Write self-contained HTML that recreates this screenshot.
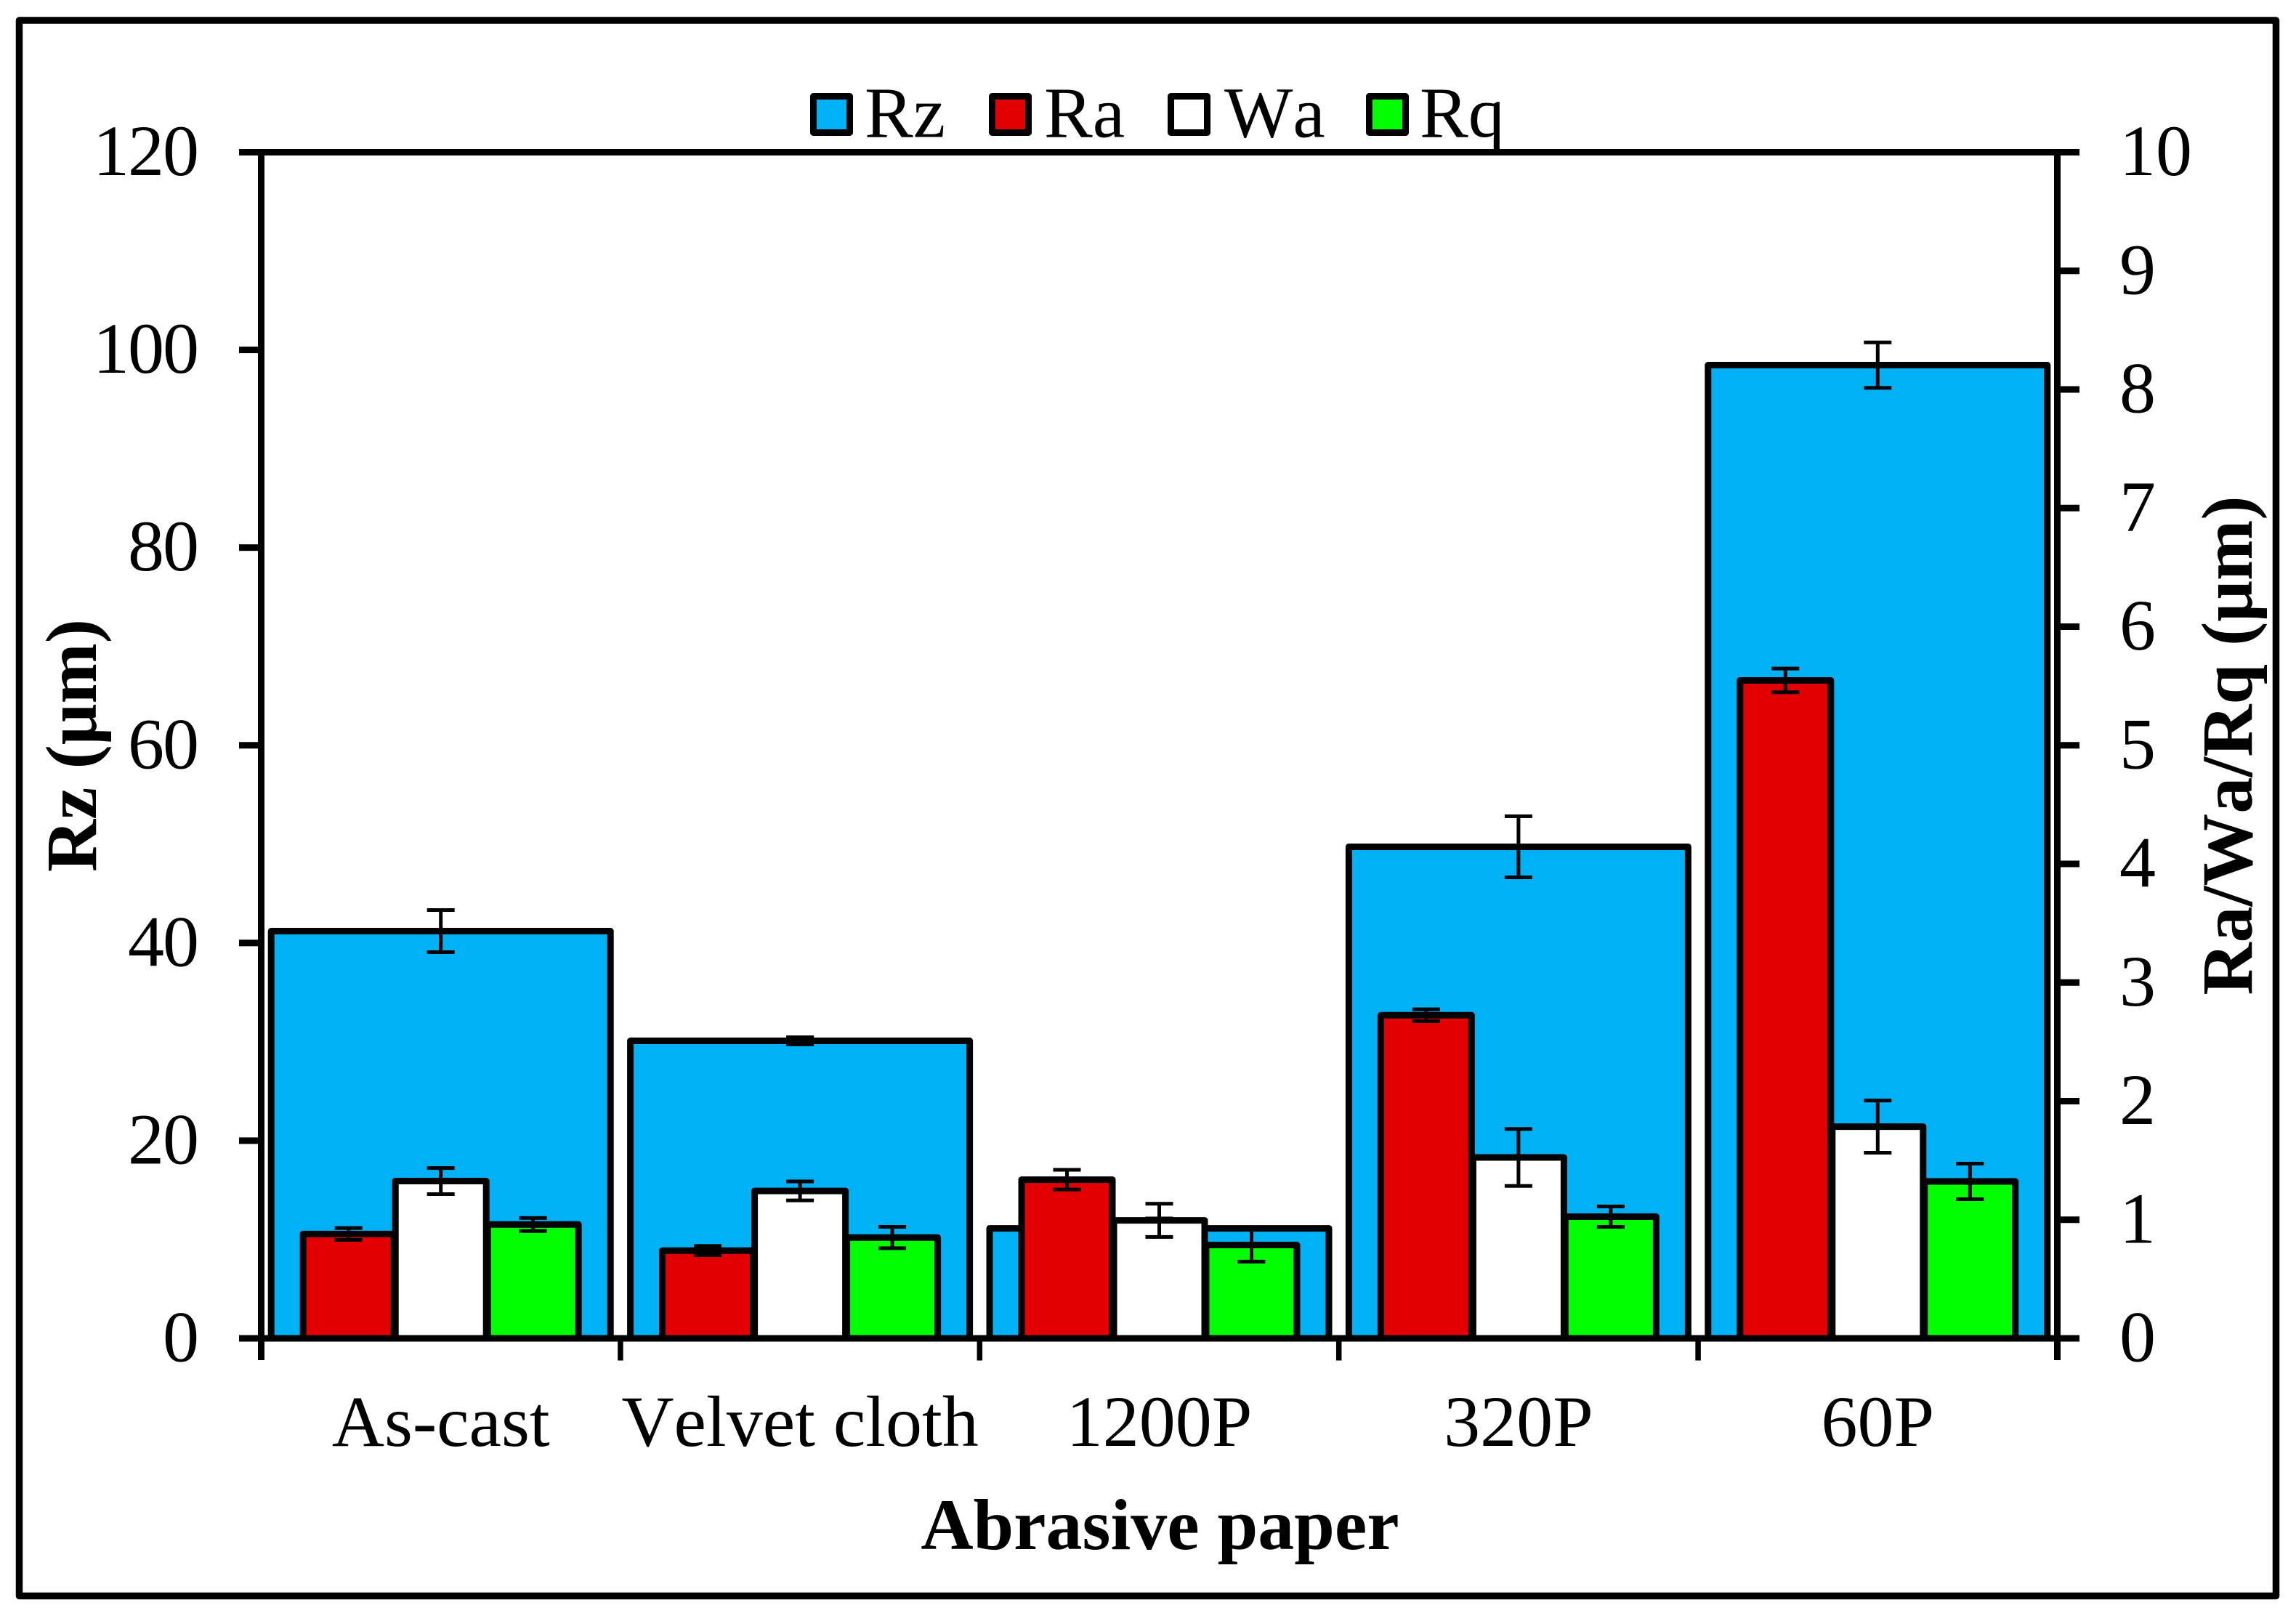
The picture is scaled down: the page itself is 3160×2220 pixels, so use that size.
<!DOCTYPE html>
<html lang="en">
<head>
<meta charset="utf-8">
<title>Surface roughness by abrasive paper</title>
<style>
html,body{margin:0;padding:0;background:#fff;}
body{width:3160px;height:2220px;overflow:hidden;}
svg{display:block;}
text{font-family:"Liberation Serif",serif;fill:#000;font-kerning:none;}
.t{font-size:100px;}
.b{font-size:100px;font-weight:bold;}
.tl{letter-spacing:-2px;}
</style>
</head>
<body>
<svg id="chart" xmlns="http://www.w3.org/2000/svg" width="3160" height="2220" viewBox="0 0 3160 2220">
  <rect x="0" y="0" width="3160" height="2220" fill="#fff"/>
  <rect x="26.5" y="28" width="3106" height="2168.5" fill="#fff" stroke="#000" stroke-width="9.5" stroke-linejoin="round"/>
  <g id="marks"></g>
  <g id="axes"></g>
  <text class="b" x="1596.5" y="2132" text-anchor="middle">Abrasive paper</text>
  <text class="b" transform="translate(132,1026) rotate(-90)" text-anchor="middle">Rz (μm)</text>
  <text class="b" transform="translate(3099,1026) rotate(-90)" text-anchor="middle">Ra/Wa/Rq (μm)</text>
  <g>
    <g>
      <rect x="1119.5" y="132.5" width="50" height="50" fill="#00B1F5" stroke="#000" stroke-width="9" stroke-linejoin="round"/>
      <text class="t" x="1190" y="188.5">Rz</text>
    </g>
    <g>
      <rect x="1365.5" y="132.5" width="50" height="50" fill="#E20000" stroke="#000" stroke-width="9" stroke-linejoin="round"/>
      <text class="t" x="1437" y="188.5">Ra</text>
    </g>
    <g>
      <rect x="1611.5" y="132.5" width="50" height="50" fill="#fff" stroke="#000" stroke-width="9" stroke-linejoin="round"/>
      <text class="t" x="1685" y="188.5">Wa</text>
    </g>
    <g>
      <rect x="1884.5" y="132.5" width="50" height="50" fill="#00FF00" stroke="#000" stroke-width="9" stroke-linejoin="round"/>
      <text class="t" x="1954" y="188.5">Rq</text>
    </g>
  </g>
</svg>
<script>
const categories = ['As-cast', 'Velvet cloth', '1200P', '320P', '60P'];
const rzValues = [41.2, 30.1, 11.13, 49.73, 98.46];
const rzErrors = [2.13, 0.36, 1.0, 3.09, 2.3];
const raValues = [0.88, 0.74, 1.338, 2.724, 5.547];
const raErrors = [0.05, 0.039, 0.083, 0.05, 0.10];
const waValues = [1.326, 1.243, 0.995, 1.525, 1.785];
const waErrors = [0.11, 0.08, 0.14, 0.24, 0.22];
const rqValues = [0.96, 0.85, 0.787, 1.026, 1.323];
const rqErrors = [0.055, 0.09, 0.14, 0.086, 0.15];
const leftTicks = [0, 20, 40, 60, 80, 100, 120];
const rightTicks = [0, 1, 2, 3, 4, 5, 6, 7, 8, 9, 10];

const SVGNS = 'http://www.w3.org/2000/svg';
const plotLeft = 359.5, plotRight = 2831.5, plotTop = 209.5, plotBottom = 1842;
const leftMax = 120, rightMax = 10;
const marks = document.getElementById('marks');
const axes = document.getElementById('axes');

function yLeft(v) { return plotBottom - (v / leftMax) * (plotBottom - plotTop); }
function yRight(v) { return plotBottom - (v / rightMax) * (plotBottom - plotTop); }
function xBand(i) { return plotLeft + i * (plotRight - plotLeft) / categories.length; }
function xCenter(i) { return xBand(i + 0.5); }

function make(tag, attrs, parent) {
  const el = document.createElementNS(SVGNS, tag);
  for (const k in attrs) el.setAttribute(k, attrs[k]);
  parent.appendChild(el);
  return el;
}

function drawBar(cx, width, top, fill, label) {
  const el = make('rect', {
    x: cx - width / 2, y: top, width: width, height: plotBottom - top,
    fill: fill, stroke: '#000', 'stroke-width': 9, 'stroke-linejoin': 'round'
  }, marks);
  
  
}

function drawError(cx, yHigh, yLow, label) {
  const g = make('g', {}, marks);
  
  
  make('rect', { x: cx - 2.5, y: yHigh, width: 5, height: yLow - yHigh, fill: '#000' }, g);
  make('rect', { x: cx - 19, y: yHigh - 2.5, width: 38, height: 5, fill: '#000' }, g);
  make('rect', { x: cx - 19, y: yLow - 2.5, width: 38, height: 5, fill: '#000' }, g);
}

function drawLine(x, y, w, h, label, parent) {
  const el = make('rect', { x: x, y: y, width: w, height: h, fill: '#000' }, parent);
  
  
}

function drawLabel(x, y, anchor, str, label, parent, cls) {
  const el = make('text', { x: x, y: y, 'text-anchor': anchor, class: cls || 't' }, parent);
  el.textContent = str;
  
  
}

/* primary-axis Rz bars */
categories.forEach(function (c, i) {
  drawBar(xCenter(i), 467, yLeft(rzValues[i]), '#00B1F5', 'bar-rz-' + i);
  drawError(xCenter(i), yLeft(rzValues[i] + rzErrors[i]), yLeft(rzValues[i] - rzErrors[i]), 'error-bar-rz-' + i);
});

/* secondary-axis bars */
const secondary = [
  { key: 'ra', vals: raValues, errs: raErrors, fill: '#E20000', offset: -127 },
  { key: 'wa', vals: waValues, errs: waErrors, fill: '#FFFFFF', offset: 0 },
  { key: 'rq', vals: rqValues, errs: rqErrors, fill: '#00FF00', offset: 127 }
];
secondary.forEach(function (s) {
  categories.forEach(function (c, i) {
    drawBar(xCenter(i) + s.offset, 125, yRight(s.vals[i]), s.fill, 'bar-' + s.key + '-' + i);
  });
});
secondary.forEach(function (s) {
  categories.forEach(function (c, i) {
    drawError(xCenter(i) + s.offset, yRight(s.vals[i] + s.errs[i]), yRight(s.vals[i] - s.errs[i]), 'error-bar-' + s.key + '-' + i);
  });
});

/* axis lines */
drawLine(329, plotTop - 4.5, 2533, 9, 'top-axis-line', axes);
drawLine(329, plotBottom - 4.5, 2533, 9, 'x-axis-line', axes);
drawLine(plotLeft - 4.5, plotTop, 9, 1662.5, 'left-y-axis-line', axes);
drawLine(plotRight - 4.5, plotTop, 9, 1662.5, 'right-y-axis-line', axes);

/* x ticks and category labels */
categories.forEach(function (c, i) {
  if (i > 0) {
    drawLine(xBand(i) - 3.75, plotBottom, 7.5, 30.5, 'x-tick-' + i, axes);
  }
  drawLabel(xCenter(i), 1990, 'middle', c, 'x-tick-label-' + i, axes);
});

/* left ticks */
leftTicks.forEach(function (v) {
  drawLine(329, yLeft(v) - 4.5, 30, 9, 'left-tick-' + v, axes);
  drawLabel(272, yLeft(v) + 31.5, 'end', String(v), 'left-tick-label-' + v, axes, 't tl');
});

/* right ticks */
rightTicks.forEach(function (v) {
  drawLine(plotRight, yRight(v) - 4.5, 30.5, 9, 'right-tick-' + v, axes);
  drawLabel(2917, yRight(v) + 31.5, 'start', String(v), 'right-tick-label-' + v, axes);
});
</script>
</body>
</html>
